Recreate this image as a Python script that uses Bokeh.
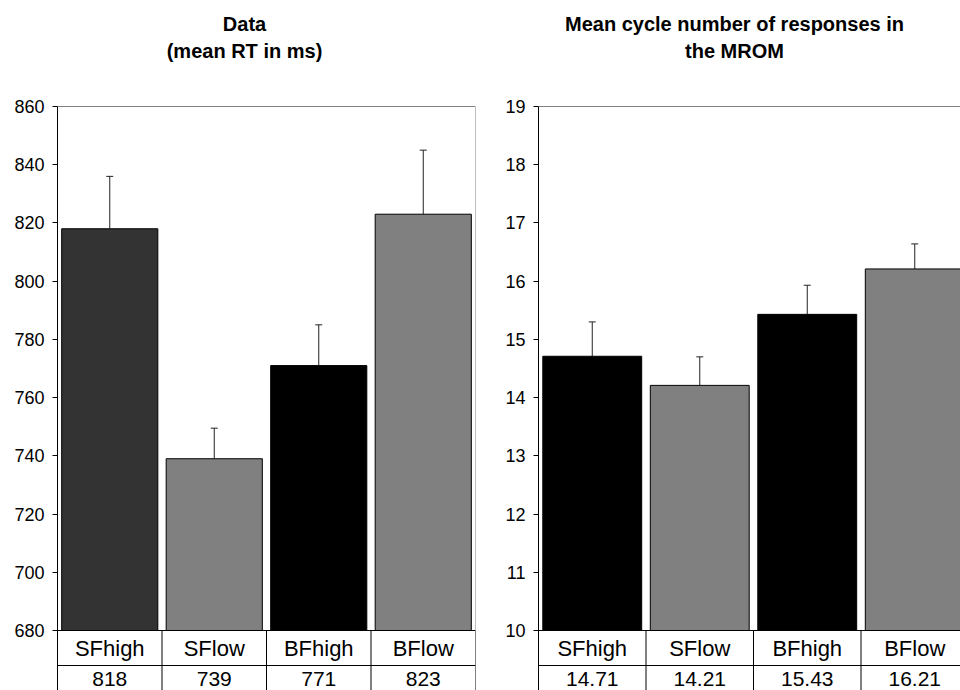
from bokeh.plotting import figure
from bokeh.layouts import row
from bokeh.models import FixedTicker, Whisker, ColumnDataSource, TeeHead, Range1d
from bokeh.embed import file_html
from bokeh.resources import INLINE
from bokeh.core.properties import value

# ---------------- data ----------------
categories = ["SFhigh", "SFlow", "BFhigh", "BFlow"]

rt_title = ["Data", "(mean RT in ms)"]
rt_means = [818, 739, 771, 823]
rt_errors = [18, 10.5, 14, 22]
rt_colors = ["#333333", "#808080", "#000000", "#808080"]
rt_ticks = [680, 700, 720, 740, 760, 780, 800, 820, 840, 860]
rt_labels = ["818", "739", "771", "823"]

cyc_title = ["Mean cycle number of responses in", "the MROM"]
cyc_means = [14.71, 14.21, 15.43, 16.21]
cyc_errors = [0.59, 0.49, 0.50, 0.43]
cyc_colors = ["#000000", "#808080", "#000000", "#808080"]
cyc_ticks = [10, 11, 12, 13, 14, 15, 16, 17, 18, 19]
cyc_labels = ["14.71", "14.21", "15.43", "16.21"]

FONT = "Liberation Sans"
FIG_H = 690


def make_panel(title_lines, means, errors, colors, ticks, labels,
               fig_width, border_left, frame_width, col_px, title_center_px):
    # pixel positions (figure coordinates, top = 0)
    top_px, base_px, bottom_px = 106, 630, FIG_H
    y_top, y_base = ticks[-1], ticks[0]
    k = (base_px - top_px) / (y_top - y_base)

    def py(pix):
        return y_base + (base_px - pix) / k

    n = len(categories)
    y_range = Range1d(py(bottom_px), py(0))
    x_range = Range1d(0, frame_width / col_px)

    p = figure(width=fig_width, height=FIG_H, x_range=x_range, y_range=y_range,
               output_backend="svg", toolbar_location=None, x_axis_type=None,
               min_border_left=border_left,
               min_border_right=fig_width - border_left - frame_width,
               min_border_top=0, min_border_bottom=0)
    p.outline_line_color = None
    p.grid.visible = False
    p.background_fill_color = "white"

    ax = p.yaxis[0]
    ax.ticker = FixedTicker(ticks=ticks)
    ax.bounds = (py(bottom_px), y_top)
    ax.axis_line_color = "black"
    ax.axis_line_width = 1
    ax.major_tick_out = 5
    ax.major_tick_in = 0
    ax.minor_tick_out = 0
    ax.minor_tick_in = 0
    ax.major_tick_line_color = "black"
    ax.major_label_text_font = FONT
    ax.major_label_text_font_size = "18px"
    ax.major_label_text_color = "black"
    ax.major_label_standoff = 8

    xs = [i + 0.5 for i in range(n)]
    src = ColumnDataSource(dict(x=xs, top=means, color=colors,
                                upper=[m + e for m, e in zip(means, errors)],
                                cat=categories, lab=labels))

    # plot area border (top and right, gray)
    p.segment(x0=[0, n], y0=[y_top, y_base], x1=[n, n], y1=[y_top, y_top],
              line_color="#808080", line_width=1)

    p.vbar(x="x", top="top", bottom=y_base, width=0.92, fill_color="color",
           line_color="black", line_width=1, source=src)

    p.add_layout(Whisker(base="x", lower="top", upper="upper", source=src,
                         lower_head=None,
                         upper_head=TeeHead(size=7, line_color="#222222", line_width=1),
                         line_color="#222222", line_width=1))

    # table below the axis
    row_div = py(665)
    p.segment(x0=[0, 0], y0=[y_base, row_div], x1=[n, n], y1=[y_base, row_div],
              line_color="black", line_width=1)
    p.segment(x0=list(range(1, n + 1)), y0=[py(bottom_px)] * n,
              x1=list(range(1, n + 1)), y1=[y_base] * n,
              line_color="black", line_width=1)

    p.text(x="x", y=py(647.5), text="cat", source=src, text_align="center",
           text_baseline="middle", text_font=value(FONT),
           text_font_size="22px", text_color="black")
    p.text(x="x", y=py(678), text="lab", source=src, text_align="center",
           text_baseline="middle", text_font=value(FONT),
           text_font_size="21px", text_color="black")

    # title
    tx = (title_center_px - border_left) / col_px
    for line, ypix in zip(title_lines, [23, 50]):
        p.text(x=[tx], y=[py(ypix)], text=[line], text_align="center",
               text_baseline="middle", text_font=value(FONT),
               text_font_size="20px", text_font_style="bold", text_color="black")
    return p


p1 = make_panel(rt_title, rt_means, rt_errors, rt_colors, rt_ticks, rt_labels,
                fig_width=480, border_left=57, frame_width=418, col_px=104.5,
                title_center_px=244)
p2 = make_panel(cyc_title, cyc_means, cyc_errors, cyc_colors, cyc_ticks, cyc_labels,
                fig_width=480, border_left=58, frame_width=422, col_px=107.5,
                title_center_px=254)

layout = row(p1, p2)
open("out.html", "w").write(file_html(layout, INLINE))
